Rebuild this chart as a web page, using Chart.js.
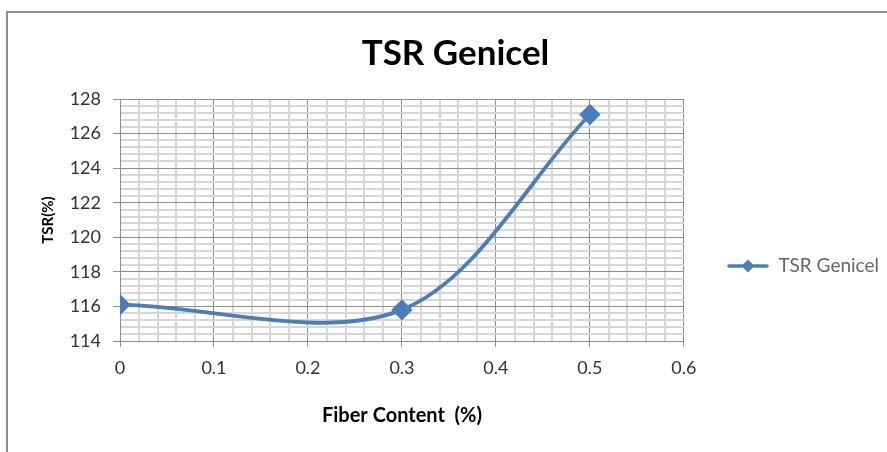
<!DOCTYPE html>
<html>
<head>
<meta charset="utf-8">
<script src="https://cdn.jsdelivr.net/npm/chart.js@4"></script>
<style>
  html, body { margin: 0; padding: 0; background: #ffffff; }
  #wrap { position: relative; width: 887px; height: 452px; overflow: hidden; }
  #frame { position: absolute; left: 6px; top: 11px; width: 900px; height: 460px; border-left: 2px solid #8c8c8c; border-top: 2px solid #8c8c8c; pointer-events: none; }
  canvas { position: absolute; left: 0; top: 0; }
</style>
</head>
<body>
<div id="wrap">
  <canvas id="c" width="887" height="452"></canvas>
  <div id="frame"></div>
</div>
<script>
// ---- data ----
const chartTitle = 'TSR Genicel';
const seriesName = 'TSR Genicel';
const fiberContent = [0, 0.3, 0.5];
const tsrValues = [116.1, 115.8, 127.1];
const xTitle = 'Fiber Content  (%)';
const yTitle = 'TSR(%)';
const xMin = 0, xMax = 0.6, xMajor = 0.1, xMinor = 0.02;
const yMin = 114, yMax = 128, yMajor = 2, yMinor = 0.4;

const BLUE = '#4a7ebb';
const FONT = 'Lato, "Liberation Sans", sans-serif';

function isMult(v, step) {
  const r = v / step;
  return Math.abs(r - Math.round(r)) < 1e-6;
}

// legend sample: line with diamond marker
const sample = document.createElement('canvas');
sample.width = 42; sample.height = 16;
(function () {
  const g = sample.getContext('2d');
  g.strokeStyle = BLUE; g.lineWidth = 3.5; g.lineCap = 'round';
  g.beginPath(); g.moveTo(2, 8); g.lineTo(40, 8); g.stroke();
  g.fillStyle = BLUE;
  g.beginPath(); g.moveTo(21, 1.5); g.lineTo(27.5, 8); g.lineTo(21, 14.5); g.lineTo(14.5, 8); g.closePath(); g.fill();
})();

const points = fiberContent.map((x, i) => ({ x: x, y: tsrValues[i] }));

new Chart(document.getElementById('c'), {
  type: 'line',
  data: {
    datasets: [{
      label: seriesName,
      data: points,
      borderColor: BLUE,
      backgroundColor: BLUE,
      borderWidth: 3.8,
      tension: 0.33,
      pointStyle: 'rectRot',
      pointRadius: 8,
      pointHoverRadius: 8,
      pointBackgroundColor: BLUE,
      pointBorderColor: BLUE,
      fill: false
    }]
  },
  options: {
    responsive: false,
    animation: false,
    layout: { padding: { left: 22, right: -2, top: 0, bottom: 0 } },
    plugins: {
      tooltip: { enabled: false },
      title: {
        display: true,
        text: chartTitle,
        color: '#000000',
        font: { family: FONT, size: 35, weight: 'bold', lineHeight: 1.2 },
        padding: { top: 33, bottom: 24 }
      },
      legend: {
        position: 'right',
        align: 'center',
        title: {
          display: true,
          text: ' ',
          font: { family: FONT, size: 16, lineHeight: 1.25 },
          padding: { top: 0, bottom: 60 }
        },
        labels: {
          color: '#222222',
          font: { family: FONT, size: 19 },
          usePointStyle: true,
          pointStyleWidth: 42,
          padding: 43,
          generateLabels: (chart) => chart.data.datasets.map((ds, i) => ({
            text: ds.label,
            pointStyle: sample,
            fillStyle: BLUE,
            strokeStyle: BLUE,
            lineWidth: 0,
            datasetIndex: i,
            hidden: false
          }))
        }
      }
    },
    scales: {
      x: {
        type: 'linear',
        min: xMin, max: xMax,
        afterFit: (s) => { s.height = 111; },
        ticks: {
          stepSize: xMinor,
          autoSkip: false,
          maxRotation: 0,
          minRotation: 0,
          padding: 10,
          color: '#333333',
          font: { family: FONT, size: 18 },
          callback: (v) => isMult(v, xMajor) ? (Math.round(v * 10) / 10).toString() : ''
        },
        grid: {
          drawOnChartArea: true,
          drawTicks: true,
          tickLength: 6,
          color: (ctx) => (ctx.tick && isMult(ctx.tick.value, xMajor)) ? '#8e8e8e' : '#d6d6d6',
          lineWidth: (ctx) => (ctx.tick && isMult(ctx.tick.value, xMajor)) ? 1 : 2,
          tickColor: (ctx) => (ctx.tick && isMult(ctx.tick.value, xMajor)) ? '#8e8e8e' : 'rgba(0,0,0,0)',
          tickWidth: 1
        },
        border: { display: true, color: '#8e8e8e', width: 1 },
        title: {
          display: true,
          text: xTitle,
          color: '#000000',
          font: { family: FONT, size: 20, weight: 'bold' },
          padding: { top: 0, bottom: 24 }
        }
      },
      y: {
        type: 'linear',
        min: yMin, max: yMax,
        afterFit: (s) => { s.width = 98; },
        ticks: {
          stepSize: yMinor,
          autoSkip: false,
          padding: 12,
          color: '#333333',
          font: { family: FONT, size: 18 },
          callback: (v) => isMult(v, yMajor) ? Math.round(v).toString() : ''
        },
        grid: {
          drawTicks: true,
          tickLength: 7,
          color: (ctx) => (ctx.tick && isMult(ctx.tick.value, yMajor)) ? '#8e8e8e' : '#d6d6d6',
          lineWidth: (ctx) => (ctx.tick && isMult(ctx.tick.value, yMajor)) ? 1 : 2,
          tickColor: (ctx) => (ctx.tick && isMult(ctx.tick.value, yMajor)) ? '#8e8e8e' : 'rgba(0,0,0,0)',
          tickWidth: 1
        },
        border: { display: true, color: '#8e8e8e', width: 1 },
        title: {
          display: true,
          text: yTitle,
          color: '#000000',
          font: { family: FONT, size: 15, weight: 'bold' },
          padding: { top: 17, bottom: 0 }
        }
      }
    }
  }
});
</script>
</body>
</html>
